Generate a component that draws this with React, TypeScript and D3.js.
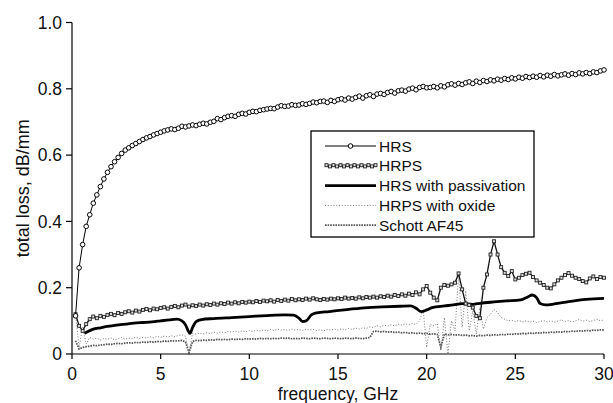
import React from 'react';
import * as d3 from 'd3';

// frequency grid of the measured sweeps, GHz
const freqs = [
  0.2, 0.4, 0.6, 0.8, 1, 1.2, 1.4, 1.6, 1.8, 2,
  2.2, 2.4, 2.6, 2.8, 3, 3.2, 3.4, 3.6, 3.8, 4,
  4.2, 4.4, 4.6, 4.8, 5, 5.2, 5.4, 5.6, 5.8, 6,
  6.2, 6.4, 6.6, 6.8, 7, 7.2, 7.4, 7.6, 7.8, 8,
  8.2, 8.4, 8.6, 8.8, 9, 9.2, 9.4, 9.6, 9.8, 10,
  10.2, 10.4, 10.6, 10.8, 11, 11.2, 11.4, 11.6, 11.8, 12,
  12.2, 12.4, 12.6, 12.8, 13, 13.2, 13.4, 13.6, 13.8, 14,
  14.2, 14.4, 14.6, 14.8, 15, 15.2, 15.4, 15.6, 15.8, 16,
  16.2, 16.4, 16.6, 16.8, 17, 17.2, 17.4, 17.6, 17.8, 18,
  18.2, 18.4, 18.6, 18.8, 19, 19.2, 19.4, 19.6, 19.8, 20,
  20.2, 20.4, 20.6, 20.8, 21, 21.2, 21.4, 21.6, 21.8, 22,
  22.2, 22.4, 22.6, 22.8, 23, 23.2, 23.4, 23.6, 23.8, 24,
  24.2, 24.4, 24.6, 24.8, 25, 25.2, 25.4, 25.6, 25.8, 26,
  26.2, 26.4, 26.6, 26.8, 27, 27.2, 27.4, 27.6, 27.8, 28,
  28.2, 28.4, 28.6, 28.8, 29, 29.2, 29.4, 29.6, 29.8, 30,
];

const hrs = [
  0.115, 0.26, 0.33, 0.385, 0.42, 0.455, 0.48, 0.505, 0.528, 0.548,
  0.565, 0.58, 0.593, 0.605, 0.615, 0.622, 0.629, 0.635, 0.641, 0.647,
  0.652, 0.656, 0.661, 0.665, 0.669, 0.673, 0.676, 0.679, 0.677, 0.681,
  0.687, 0.685, 0.688, 0.691, 0.689, 0.693, 0.696, 0.694, 0.699, 0.702,
  0.71, 0.707, 0.713, 0.717, 0.719, 0.717, 0.723, 0.726, 0.724, 0.729,
  0.732, 0.731, 0.735, 0.737, 0.739, 0.741, 0.74, 0.745, 0.749, 0.747,
  0.748, 0.752, 0.75, 0.751, 0.755, 0.753, 0.756, 0.76, 0.758, 0.762,
  0.763, 0.759, 0.765, 0.762, 0.767, 0.77, 0.766, 0.772, 0.769, 0.774,
  0.778, 0.772, 0.779, 0.782, 0.777, 0.784, 0.786, 0.783, 0.789, 0.792,
  0.787, 0.794, 0.796, 0.793, 0.799, 0.802, 0.797, 0.804, 0.807, 0.803,
  0.804, 0.807, 0.803, 0.809, 0.806, 0.812, 0.815, 0.811, 0.816, 0.813,
  0.818, 0.821, 0.816, 0.823, 0.819, 0.825, 0.822, 0.827, 0.824, 0.829,
  0.826, 0.831, 0.828, 0.833, 0.83, 0.835, 0.832, 0.837, 0.834, 0.838,
  0.835, 0.84, 0.836, 0.841, 0.838, 0.843, 0.839, 0.842, 0.845, 0.841,
  0.846, 0.843, 0.848, 0.845, 0.849, 0.846, 0.851, 0.849, 0.854, 0.857,
];

const hrps = [
  0.12, 0.085, 0.07, 0.09, 0.105, 0.113, 0.108, 0.115, 0.112, 0.118,
  0.121, 0.117, 0.124, 0.121, 0.126, 0.129, 0.125, 0.131, 0.128, 0.133,
  0.136, 0.132, 0.137, 0.135, 0.139, 0.141, 0.137, 0.142, 0.145, 0.141,
  0.146, 0.149, 0.143, 0.147, 0.145, 0.149, 0.146, 0.15, 0.148, 0.152,
  0.149, 0.153, 0.151, 0.155, 0.152, 0.156, 0.153, 0.157, 0.155, 0.158,
  0.156, 0.16, 0.157, 0.161, 0.159, 0.162, 0.158, 0.163, 0.16, 0.164,
  0.161, 0.166, 0.162, 0.165, 0.163, 0.167, 0.164, 0.168, 0.165, 0.163,
  0.166, 0.164, 0.167, 0.165, 0.168, 0.166, 0.17, 0.167, 0.169, 0.167,
  0.171, 0.168, 0.172, 0.17, 0.173, 0.17, 0.174, 0.172, 0.176, 0.173,
  0.178, 0.175, 0.18, 0.176, 0.182, 0.178, 0.186, 0.18, 0.195, 0.205,
  0.185, 0.17, 0.162, 0.2, 0.208, 0.206, 0.21, 0.215, 0.243, 0.195,
  0.152, 0.148, 0.14, 0.115, 0.108, 0.2, 0.24, 0.3, 0.34, 0.3,
  0.262, 0.245, 0.235, 0.25, 0.225, 0.23, 0.238, 0.242, 0.245, 0.232,
  0.222, 0.215, 0.208, 0.2, 0.198, 0.21, 0.222, 0.23, 0.238, 0.244,
  0.236, 0.23, 0.226, 0.22, 0.216, 0.228, 0.234, 0.226, 0.232, 0.23,
];

const oxide = [
  0.12, 0.02, 0.08, 0.03, 0.05, 0.045, 0.048, 0.042, 0.047, 0.044,
  0.049, 0.043, 0.046, 0.05, 0.045, 0.048, 0.046, 0.051, 0.047, 0.05,
  0.048, 0.052, 0.049, 0.053, 0.05, 0.054, 0.051, 0.055, 0.052, 0.056,
  0.058, 0.054, 0.005, 0.062, 0.06, 0.063, 0.061, 0.064, 0.062, 0.066,
  0.063, 0.067, 0.064, 0.068, 0.066, 0.069, 0.066, 0.07, 0.067, 0.071,
  0.068, 0.072, 0.069, 0.073, 0.07, 0.074, 0.071, 0.075, 0.072, 0.074,
  0.071, 0.075, 0.072, 0.074, 0.071, 0.075, 0.072, 0.074, 0.071, 0.073,
  0.07, 0.074, 0.072, 0.075, 0.072, 0.076, 0.073, 0.077, 0.074, 0.078,
  0.075, 0.079, 0.077, 0.082, 0.08, 0.085, 0.082, 0.087, 0.084, 0.088,
  0.085, 0.09, 0.087, 0.091, 0.088, 0.092, 0.089, 0.1, 0.135, 0.02,
  0.09, 0.085, 0.092, 0.01, 0.11, 0.0, 0.1, 0.07, 0.24, 0.08,
  0.19, 0.07, 0.13, 0.06, 0.14, 0.075, 0.11, 0.12, 0.135, 0.125,
  0.11, 0.105, 0.1, 0.102, 0.098, 0.101, 0.097, 0.1, 0.096, 0.099,
  0.095, 0.098, 0.101, 0.097, 0.1, 0.096, 0.099, 0.103, 0.098, 0.101,
  0.097, 0.1, 0.104, 0.099, 0.102, 0.098, 0.101, 0.105, 0.1, 0.103,
];

const schott = [
  0.04, 0.015, 0.02, 0.022, 0.024, 0.026, 0.025, 0.027, 0.028, 0.03,
  0.029, 0.031, 0.032, 0.031, 0.033, 0.034, 0.033, 0.035, 0.034, 0.036,
  0.035, 0.037, 0.036, 0.038, 0.037, 0.039, 0.038, 0.04, 0.039, 0.04,
  0.041, 0.036, 0.004, 0.038, 0.041, 0.04, 0.042, 0.041, 0.043, 0.042,
  0.044, 0.043, 0.044, 0.043, 0.045, 0.044, 0.045, 0.044, 0.046, 0.045,
  0.046, 0.045, 0.047, 0.046, 0.047, 0.046, 0.047, 0.046, 0.048, 0.047,
  0.048, 0.046, 0.047, 0.046, 0.048, 0.047, 0.046, 0.048, 0.047, 0.046,
  0.048, 0.047, 0.046, 0.048, 0.047, 0.046, 0.048, 0.047, 0.046, 0.048,
  0.047, 0.046, 0.048, 0.05, 0.068, 0.069, 0.067, 0.068, 0.066, 0.067,
  0.065, 0.066, 0.064, 0.065, 0.063, 0.064, 0.062, 0.063, 0.061, 0.062,
  0.06, 0.061, 0.059, 0.02, 0.06, 0.058, 0.059, 0.057, 0.058, 0.056,
  0.057, 0.055, 0.056, 0.054, 0.056, 0.055, 0.057, 0.056, 0.058, 0.057,
  0.059, 0.058, 0.06, 0.059, 0.061, 0.06, 0.062, 0.061, 0.063, 0.062,
  0.064, 0.063, 0.065, 0.064, 0.066, 0.065, 0.067, 0.066, 0.068, 0.067,
  0.069, 0.068, 0.07, 0.069, 0.071, 0.07, 0.072, 0.071, 0.073, 0.072,
];

// smooth trace, sampled where it bends
const passFreqs = [
  0.7, 0.9, 1.2, 1.6, 2, 2.5, 3, 3.5, 4, 4.5, 5, 5.5, 5.9, 6.2, 6.4, 6.55, 6.65,
  6.8, 7, 7.3, 8, 9, 10, 11, 12, 12.5, 12.8, 13, 13.2, 13.5, 13.8, 14.5, 15.5,
  16.5, 17.5, 18.5, 19.1, 19.4, 19.7, 20, 20.3, 21, 21.5, 22, 22.6, 23, 23.8,
  24.5, 25.3, 25.7, 25.95, 26.2, 26.4, 26.7, 27.2, 28, 29, 30,
];
const passivation = [
  0.062, 0.068, 0.075, 0.079, 0.083, 0.087, 0.09, 0.093, 0.095, 0.097, 0.1, 0.103, 0.105, 0.1, 0.088, 0.07, 0.062,
  0.08, 0.098, 0.104, 0.107, 0.11, 0.113, 0.116, 0.118, 0.117, 0.108, 0.098, 0.1, 0.118, 0.124, 0.128, 0.134,
  0.139, 0.142, 0.144, 0.145, 0.138, 0.128, 0.133, 0.14, 0.145, 0.148, 0.152, 0.15, 0.153, 0.157,
  0.16, 0.163, 0.172, 0.178, 0.17, 0.152, 0.148, 0.151, 0.158, 0.165, 0.168,
];

const xTicks = [0, 5, 10, 15, 20, 25, 30];
const yTicks = [0, 0.2, 0.4, 0.6, 0.8, 1.0];
const yTickLabels = ['0', '0.2', '0.4', '0.6', '0.8', '1.0'];
const legendLabels = ['HRS', 'HRPS', 'HRS with passivation', 'HRPS with oxide', 'Schott AF45'];

const W = 613, H = 403;
const font = '"Liberation Sans", Arial, Helvetica, sans-serif';

export default function App() {
  const x = d3.scaleLinear().domain([0, 30]).range([72, 604]);
  const y = d3.scaleLinear().domain([0, 1]).range([354, 22.5]);

  const pairs = (fs: number[], vs: number[]) => fs.map((f, i) => [f, vs[i]] as [number, number]);
  const line = d3.line<[number, number]>().x(d => x(d[0])).y(d => y(d[1]));
  const smooth = d3.line<[number, number]>().x(d => x(d[0])).y(d => y(d[1])).curve(d3.curveMonotoneX);

  const hrsPts = pairs(freqs, hrs);
  const hrpsPts = pairs(freqs, hrps);

  // legend
  const lg = { x0: 311, y0: 131, w: 223, h: 106 };
  const rowY = (i: number) => 146 + i * 19.8;
  const sx0 = 325, sx1 = 376;

  return (
    <svg width={W} height={H} style={{ position: 'absolute', left: 0, top: 0, background: '#fff' }}
      fontFamily={font}>
      {/* series */}
      <path d={line(pairs(freqs, schott)) || ''} fill="none" stroke="#555" strokeWidth={1.7} strokeDasharray="1.6,1" />
      <path d={line(pairs(freqs, oxide)) || ''} fill="none" stroke="#777" strokeWidth={1} strokeDasharray="1,1.8" />
      <path d={smooth(pairs(passFreqs, passivation)) || ''} fill="none" stroke="#000" strokeWidth={2.8} strokeLinejoin="round" />
      <path d={line(hrpsPts) || ''} fill="none" stroke="#111" strokeWidth={1.3} />
      {hrpsPts.map((d, i) => (
        <rect key={'p' + i} x={x(d[0]) - 1.5} y={y(d[1]) - 1.5} width={3} height={3}
          fill="#ddd" stroke="#222" strokeWidth={0.9} />
      ))}
      <path d={line(hrsPts) || ''} fill="none" stroke="#000" strokeWidth={1} />
      {hrsPts.map((d, i) => (
        <circle key={'h' + i} cx={x(d[0])} cy={y(d[1])} r={2.3} fill="#fff" stroke="#000" strokeWidth={1} />
      ))}

      {/* axes */}
      <line x1={x(0)} x2={x(30)} y1={y(0)} y2={y(0)} stroke="#000" strokeWidth={1.2} />
      <line x1={x(0)} x2={x(0)} y1={y(0)} y2={y(1)} stroke="#000" strokeWidth={1.2} />
      {xTicks.map(t => (
        <g key={'xt' + t}>
          <line x1={x(t)} x2={x(t)} y1={y(0)} y2={y(0) + 5} stroke="#000" strokeWidth={1.2} />
          <text x={x(t)} y={380} textAnchor="middle" fontSize={17.5} fill="#111">{t}</text>
        </g>
      ))}
      {yTicks.map((t, i) => (
        <g key={'yt' + t}>
          <line x1={x(0) - 6} x2={x(0)} y1={y(t)} y2={y(t)} stroke="#000" strokeWidth={1.2} />
          <text x={62} y={y(t)} dy="0.36em" textAnchor="end" fontSize={17.5} fill="#111">{yTickLabels[i]}</text>
        </g>
      ))}
      <text x={(x(0) + x(30)) / 2} y={399.5} textAnchor="middle" fontSize={17.5} fill="#111">frequency, GHz</text>
      <text transform={`translate(29,${(y(0) + y(1)) / 2}) rotate(-90)`} textAnchor="middle" fontSize={18} fill="#111">
        total loss, dB/mm
      </text>

      {/* legend */}
      <rect x={lg.x0} y={lg.y0} width={lg.w} height={lg.h} fill="#fff" stroke="#000" strokeWidth={1.3} />
      <line x1={sx0} x2={sx1} y1={rowY(0)} y2={rowY(0)} stroke="#000" strokeWidth={1} />
      <circle cx={(sx0 + sx1) / 2} cy={rowY(0)} r={2.3} fill="#fff" stroke="#000" strokeWidth={1} />
      <line x1={sx0} x2={sx1} y1={rowY(1)} y2={rowY(1)} stroke="#111" strokeWidth={1.3} />
      {d3.range(sx0 + 1.5, sx1, 3.5).map((px, i) => (
        <rect key={'lg' + i} x={px - 1.5} y={rowY(1) - 1.5 + (i % 2 ? 0.6 : -0.6)} width={3} height={3}
          fill="#ddd" stroke="#222" strokeWidth={0.9} />
      ))}
      <line x1={sx0} x2={sx1} y1={rowY(2)} y2={rowY(2)} stroke="#000" strokeWidth={2.8} />
      <line x1={sx0} x2={sx1} y1={rowY(3)} y2={rowY(3)} stroke="#777" strokeWidth={1} strokeDasharray="1,1.8" />
      <line x1={sx0} x2={sx1} y1={rowY(4)} y2={rowY(4)} stroke="#555" strokeWidth={1.7} strokeDasharray="1.6,1" />
      {legendLabels.map((l, i) => (
        <text key={l} x={379} y={rowY(i)} dy="0.36em" fontSize={15.5} fill="#111">{l}</text>
      ))}
    </svg>
  );
}
